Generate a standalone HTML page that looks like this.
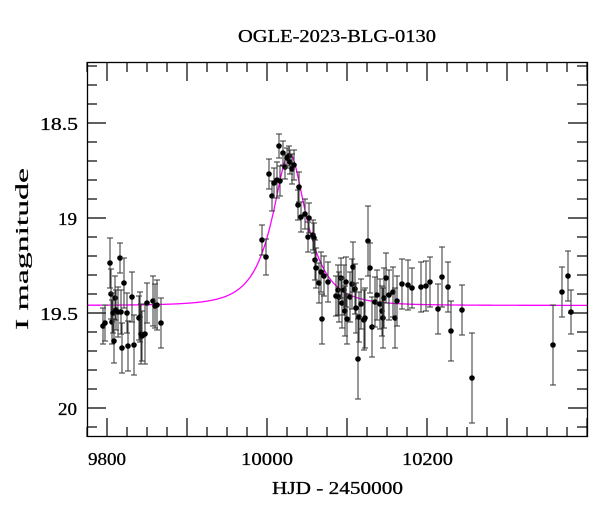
<!DOCTYPE html>
<html><head><meta charset="utf-8"><style>
html,body{margin:0;padding:0;background:#fff;}
svg{display:block;font-family:"Liberation Serif","DejaVu Serif",serif;}
</style></head><body>
<svg id="s" width="600" height="512" viewBox="0 0 600 512" xmlns="http://www.w3.org/2000/svg">
<text x="238" y="42" font-size="18" stroke="#000" stroke-width="0.3" textLength="198" lengthAdjust="spacingAndGlyphs">OGLE-2023-BLG-0130</text>
<g id="ticks" stroke="#000" stroke-width="1.2"></g>
<path id="curve" fill="none" stroke="#ff00ff" stroke-width="1.3"/>
<g id="pts"></g>
<rect x="87.5" y="62.5" width="500" height="374" fill="none" stroke="#000" stroke-width="1.3"/>
<g font-size="18" stroke="#000" stroke-width="0.3">
<text x="88" y="465" textLength="38" lengthAdjust="spacingAndGlyphs">9800</text>
<text x="241" y="465" textLength="52" lengthAdjust="spacingAndGlyphs">10000</text>
<text x="402" y="465" textLength="51" lengthAdjust="spacingAndGlyphs">10200</text>
<text x="272" y="494" textLength="131" lengthAdjust="spacingAndGlyphs">HJD - 2450000</text>
<text x="40" y="130" textLength="38" lengthAdjust="spacingAndGlyphs">18.5</text>
<text x="58" y="225" textLength="19" lengthAdjust="spacingAndGlyphs">19</text>
<text x="40" y="320" textLength="38" lengthAdjust="spacingAndGlyphs">19.5</text>
<text x="58" y="415" textLength="19" lengthAdjust="spacingAndGlyphs">20</text>
</g>
<text transform="translate(28,330) rotate(-90)" font-size="18" stroke="#000" stroke-width="0.2" textLength="162" lengthAdjust="spacingAndGlyphs">I magnitude</text>
</svg>
<script>
function X(d){return 107+(d-9800)*0.8;}
function Y(m){return 313+(m-19.5)*190;}
var t=document.getElementById('ticks'),h='';
for(var d=9775;d<=10400;d+=25){var x=X(d),L=(d%100==0)?19:10;
h+='<line x1="'+x+'" y1="437" x2="'+x+'" y2="'+(437-L)+'"/><line x1="'+x+'" y1="62" x2="'+x+'" y2="'+(62+L)+'"/>';}
for(var i=0;i<=19;i++){var m=18.2+i*0.1;var y=Y(m);if(y<62||y>437)continue;var L=(Math.abs(m*2-Math.round(m*2))<1e-6)?19:10;
h+='<line x1="87" y1="'+y+'" x2="'+(87+L)+'" y2="'+y+'"/><line x1="587" y1="'+y+'" x2="'+(587-L)+'" y2="'+y+'"/>';}
t.innerHTML=h;
var u0=0.45,tE=40,t0=10028,fs=0.786,mb=19.46,p='';
for(var px=87;px<=587;px+=1){var d=9800+(px-107)/0.8;var tau=(d-t0)/tE;var u=Math.sqrt(u0*u0+tau*tau);
var A=(u*u+2)/(u*Math.sqrt(u*u+4));var m=mb-2.5*Math.log10(1+fs*(A-1));p+=(px==87?'M':'L')+px+' '+Y(m).toFixed(2);}
document.getElementById('curve').setAttribute('d',p);
var P=[[103,326,18],[105,323,18],[110,263,25],[111,294,25],[112,322,22],[113,313,20],[114,341,22],[115,298,22],[116,310,20],[118,312,25],[120,258,15],[121,312,22],[122,348,25],[124,283,25],[127,313,20],[128,346,25],[132,297,25],[134,345,30],[139,318,22],[140,317,25],[141,334,30],[142,336,25],[145,334,30],[147,303,20],[153,301,25],[155,306,22],[157,305,25],[161,323,25],
[262,240,15],[266,257,18],[269,174,15],[272,196,15],[274,183,15],[277,180,18],[279,146,12],[280,181,15],[283,153,12],[285,167,12],[287,158,10],[289,156,10],[290,162,12],[292,169,15],[294,165,15],[298,205,15],[299,187,15],[301,217,15],[305,214,15],[308,237,15],[309,218,15],[313,235,15],[314,238,15],[315,260,20],[316,268,20],[319,283,20],[321,272,20],[322,319,25],[324,276,20],[328,282,20],[336,296,20],[338,290,25],[339,297,25],[341,278,20],[342,303,25],[344,290,25],[345,311,25],[346,282,25],[347,319,25],[350,297,25],[352,284,25],[353,267,25],[355,289,25],[356,308,25],[358,359,40],[359,317,25],[361,304,25],[364,320,30],[365,318,30],[368,241,35],[370,268,25],[372,327,30],[375,302,25],[377,295,25],[380,304,25],[382,311,25],[383,318,30],[384,298,30],[386,278,25],[389,295,25],[393,292,25],[395,318,30],[397,301,25],[402,284,25],[408,285,25],[412,288,20],[421,287,25],[426,286,25],[430,282,25],[438,309,25],[442,277,30],[448,287,25],[451,331,30],[462,310,25],[472,378,45],[553,345,40],[562,292,25],[568,276,25],[571,312,22]];
var g='';P.forEach(function(q){var x=q[0],y=q[1],e=q[2],y1=y-e,y2=Math.min(y+e,437);
g+='<line x1="'+x+'" y1="'+y1+'" x2="'+x+'" y2="'+y2+'" stroke="#333" stroke-width="1"/>';
g+='<line x1="'+(x-3)+'" y1="'+y1+'" x2="'+(x+3)+'" y2="'+y1+'" stroke="#333" stroke-width="1"/>';
if(y+e<437)g+='<line x1="'+(x-3)+'" y1="'+y2+'" x2="'+(x+3)+'" y2="'+y2+'" stroke="#333" stroke-width="1"/>';
g+='<circle cx="'+x+'" cy="'+y+'" r="2.8" fill="#000"/>';});
document.getElementById('pts').innerHTML=g;
</script>
</body></html>
